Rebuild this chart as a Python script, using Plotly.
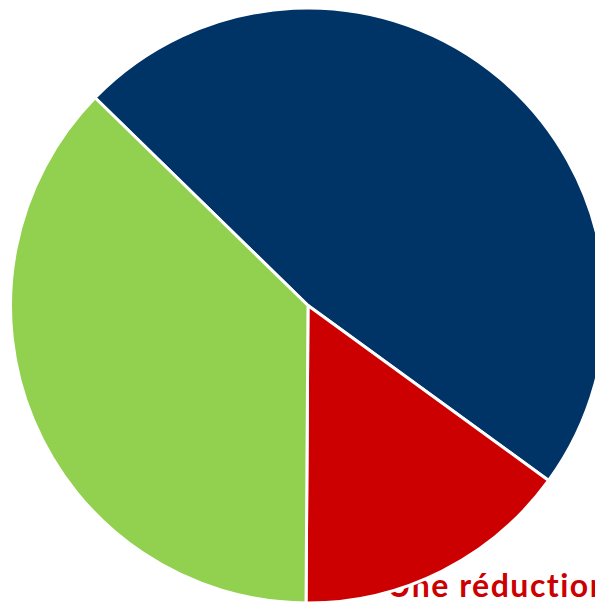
import plotly.graph_objects as go

# Slice data (share of the whole, in %)
labels = ["Part 1", "Part 2", "Part 3"]
values = [47.7, 15.1, 37.2]
colors = ["#003366", "#CC0000", "#92D050"]

caption = "Une réduction"

W, H = 606, 603
L, R, T, B = 10, 0, 8, 0

fig = go.Figure()

# Caption sits in a hidden cartesian layer, which is drawn beneath the pie
fig.add_trace(
    go.Scatter(
        x=[387], y=[589],
        mode="text",
        text=[f"<b>{caption}</b>"],
        textposition="middle right",
        textfont=dict(family="Lato", size=32, color="#CC0000"),
        cliponaxis=False,
        hoverinfo="skip",
        showlegend=False,
    )
)

fig.add_trace(
    go.Pie(
        labels=labels,
        values=values,
        sort=False,
        direction="clockwise",
        rotation=-45.7,
        marker=dict(colors=colors, line=dict(color="white", width=3)),
        textinfo="none",
        hoverinfo="label+percent",
        showlegend=False,
    )
)

fig.update_layout(
    width=W, height=H,
    margin=dict(l=L, r=R, t=T, b=B),
    paper_bgcolor="white",
    plot_bgcolor="white",
    xaxis=dict(range=[L, W - R], visible=False, fixedrange=True),
    yaxis=dict(range=[H - B, T], visible=False, fixedrange=True),
)

# Hide the overflow past the page edge and loosen the caption's tracking a little
post = (
    "document.body.style.overflow='hidden';"
    "document.querySelectorAll('.textpoint text').forEach(function(t){"
    "t.style.letterSpacing='1.5px';});"
)
fig.write_html("out.html", post_script=post)
